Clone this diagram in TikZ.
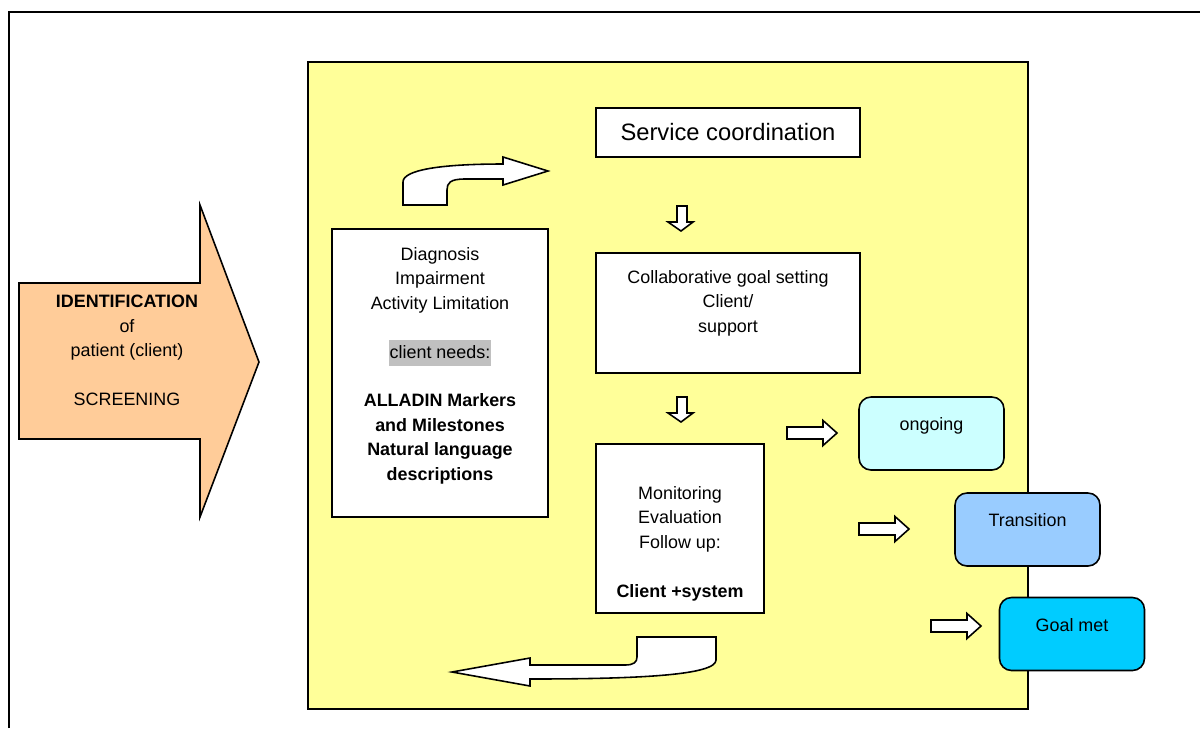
\documentclass[tikz,border=0pt]{standalone}
\usepackage{fontspec}
\setmainfont{Liberation Sans}
\definecolor{boardyellow}{HTML}{FFFF99}
\definecolor{peach}{HTML}{FFCC99}
\definecolor{ongoingcol}{HTML}{CCFFFF}
\definecolor{transcol}{HTML}{99CCFF}
\definecolor{metcol}{HTML}{00CCFF}
\definecolor{needsgrey}{HTML}{C0C0C0}
\begin{document}
\begin{tikzpicture}[x=0.02cm,y=-0.02cm,line join=miter,
  every node/.style={font=\fontsize{10.2}{13.9}\selectfont},
  box/.style={draw,line width=0.9pt,fill=white,inner sep=0pt},
  rbox/.style={draw,line width=0.9pt,rounded corners=0.24cm,minimum width=2.9cm,minimum height=1.46cm,inner sep=0pt},
  txt/.style={align=center,inner sep=0pt},
  blk/.style={draw,line width=0.9pt,fill=white}]
  \useasboundingbox (0,0) rectangle (1200,728);
  % frame of the page
  \draw[line width=1.2pt] (9,728) -- (9,12) -- (1200,12);
  % screening arrow
  \draw[line width=0.9pt,fill=peach] (19,283) -- (200,283) -- (200,205) -- (259,362)
    -- (200,517) -- (200,439) -- (19,439) -- cycle;
  \node[txt,anchor=north] (ident) at (127,295) {\textbf{IDENTIFICATION}\\of\\patient (client)\\[13.9pt]SCREENING};
  % yellow board
  \draw[line width=1pt,fill=boardyellow] (308,62) rectangle (1028,709);
  \node[box,minimum width=5.28cm,minimum height=0.98cm,font=\fontsize{13.5}{16}\selectfont] (svc) at (728,132.5) {Service coordination};
  \node[box,minimum width=4.32cm,minimum height=5.76cm] (diag) at (440,373) {};
  \node[txt,anchor=north] (diagtxt) at (440,247) {Diagnosis\\Impairment\\Activity Limitation\\[13.9pt]%
    {\setlength{\fboxsep}{0.6pt}\colorbox{needsgrey}{\strut client needs:}}\\[13.9pt]%
    \textbf{ALLADIN Markers}\\\textbf{and Milestones}\\\textbf{Natural language}\\\textbf{descriptions}};
  \node[box,minimum width=5.28cm,minimum height=2.4cm] (collab) at (728,313) {};
  \node[txt,anchor=north] (collabtxt) at (728,270) {Collaborative goal setting\\Client/\\support};
  \node[box,minimum width=3.36cm,minimum height=3.38cm] (mon) at (680,528.5) {};
  \node[txt,anchor=north] (montxt) at (680,486) {Monitoring\\Evaluation\\Follow up:\\[13.9pt]\textbf{Client +system}};
  % outcomes
  \foreach \n/\x/\y/\c/\t in {ongoing/931.5/433.5/ongoingcol/ongoing,trans/1027.5/529.5/transcol/Transition,met/1072/634/metcol/Goal met} {
    \node[rbox,fill=\c] (\n) at (\x,\y) {};
    \node[anchor=base,inner sep=0pt] (\n txt) at (\x,\y-3) {\t};
  }
  % block arrows to the outcomes
  \foreach \x/\y in {787/433,859/529,931/626}
    \draw[blk] (\x,\y-6) -- (\x+36,\y-6) -- (\x+36,\y-12.5) -- (\x+50,\y) -- (\x+36,\y+12.5)
      -- (\x+36,\y+6) -- (\x,\y+6) -- cycle;
  % block arrows down
  \foreach \y in {206,397}
    \draw[blk] (677,\y) -- (687,\y) -- (687,\y+16) -- (693,\y+16) -- (681,\y+25) -- (668,\y+16)
      -- (677,\y+16) -- cycle;
  % curved arrows
  \draw[blk] (403,205) -- (403,182) .. controls (403,170) and (440,164) .. (503,164) -- (503,157)
    -- (548,171) -- (503,185) -- (503,179) -- (465,179) .. controls (450,179) and (447,183) .. (447,190)
    -- (447,205) -- cycle;
  \draw[blk] (452,672) -- (530,658) -- (530,665) -- (625,665) .. controls (634,665) and (637,662) .. (637,657)
    -- (637,637) -- (716,637) -- (716,660) .. controls (716,675) and (640,679) .. (530,679) -- (530,686) -- cycle;
\end{tikzpicture}
\end{document}
